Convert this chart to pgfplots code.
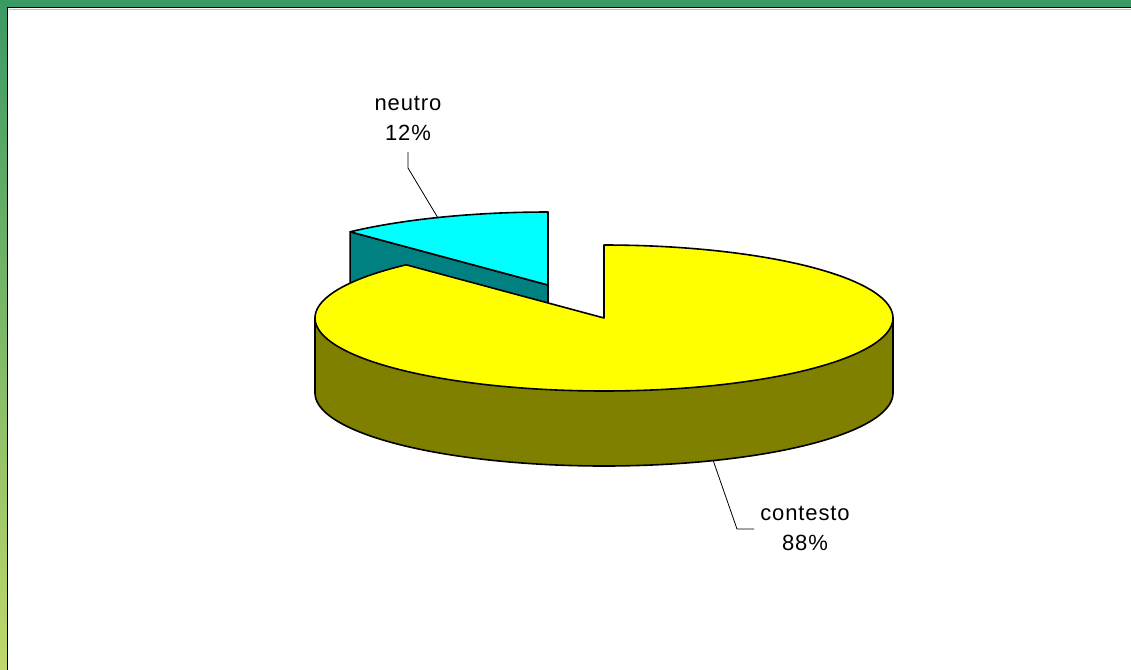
\documentclass[border=0pt]{standalone}
\usepackage{pgfplots}
\pgfplotsset{compat=1.18}
\usepackage{fontspec}
\setmainfont{Liberation Sans}
\newfontfamily\lbl[LetterSpace=4]{Liberation Sans}
\definecolor{frameg}{HTML}{3A9A64}
\definecolor{framey}{HTML}{C0D86A}
\definecolor{tealside}{HTML}{008080}
\definecolor{oliveside}{HTML}{808000}
\definecolor{cyantop}{HTML}{00FFFF}
\definecolor{yellowtop}{HTML}{FFFF00}
% data (percent)
\def\vNeutro{12}
\def\vContesto{88}
% geometry (pixels)
\def\R{289}\def\r{73}\def\H{75}
\def\yx{604}\def\yy{318}   % centre of contesto slice
\def\nx{548}\def\ny{285}   % centre of exploded neutro slice
\pgfmathsetmacro\aS{90}
\pgfmathsetmacro\aE{90+3.6*\vNeutro}
\pgfmathsetmacro\aEnd{\aE+3.6*\vContesto}
\pgfmathsetmacro\nrx{\nx+\R*cos(\aE)}
\pgfmathsetmacro\nry{\ny-\r*sin(\aE)}
\pgfmathsetmacro\nryb{\nry+\H}
\pgfmathsetmacro\nyb{\ny+\H}
\pgfmathsetmacro\yyb{\yy+\H}
\pgfmathsetmacro\xl{\yx-\R}
\pgfmathsetmacro\xr{\yx+\R}
\begin{document}
\begin{tikzpicture}
\useasboundingbox (0,0) rectangle (1131bp,670bp);
\begin{axis}[at={(0,0)},anchor=south west,width=1131bp,height=670bp,scale only axis,
  xmin=0,xmax=1131,ymin=0,ymax=670,y dir=reverse,hide axis,clip=false]
% frame
\fill[frameg] (axis cs:0,0) rectangle (axis cs:1131,7);
\shade[top color=frameg,bottom color=framey] (axis cs:0,0) rectangle (axis cs:7,670);
\draw[gray!50,line width=1bp] (axis cs:9,9.5) -- (axis cs:1131,9.5);
\draw[black,line width=1.6bp] (axis cs:7.5,670) -- (axis cs:7.5,7.5) -- (axis cs:1131,7.5);
% neutro slice (exploded)
\addplot[fill=tealside,draw=black,line width=1.6bp,line join=round] coordinates
  {(\nx,\ny) (\nrx,\nry) (\nrx,\nryb) (\nx,\nyb)} -- cycle;
\addplot[fill=cyantop,draw=black,line width=1.6bp,line join=round,samples=40,domain=\aS:\aE,variable=\t]
  ({\nx+\R*cos(t)},{\ny-\r*sin(t)}) -- (axis cs:\nx,\ny) -- cycle;
% contesto slice: side
\addplot[fill=oliveside,draw=black,line width=1.6bp,line join=round,samples=120,domain=180:360,variable=\t]
  ({\yx+\R*cos(t)},{\yyb-\r*sin(t)}) -- (axis cs:\xr,\yy) -- (axis cs:\xl,\yy) -- cycle;
% contesto slice: top
\addplot[fill=yellowtop,draw=black,line width=1.6bp,line join=round,samples=160,domain=\aE:\aEnd,variable=\t]
  ({\yx+\R*cos(t)},{\yy-\r*sin(t)}) -- (axis cs:\yx,\yy) -- cycle;
% labels
\draw[black,line width=0.8bp] (axis cs:408,152) -- (axis cs:408,168) -- (axis cs:438,218);
\draw[black,line width=0.8bp] (axis cs:713,460) -- (axis cs:737,529) -- (axis cs:754,529);
\node[align=center,font=\lbl\fontsize{22bp}{30bp}\selectfont,inner sep=0pt] at (axis cs:408,118) {neutro\\12\%};
\node[align=center,font=\lbl\fontsize{22bp}{30bp}\selectfont,inner sep=0pt] at (axis cs:805,528) {contesto\\88\%};
\end{axis}
\end{tikzpicture}
\end{document}
